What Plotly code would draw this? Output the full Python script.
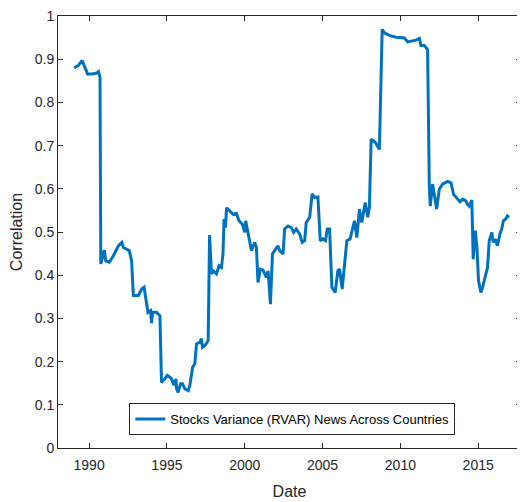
import plotly.graph_objects as go

# valores (ano decimal, correlacao)
anos = [
    1989.04, 1989.3, 1989.55, 1989.75, 1989.9, 1990.2, 1990.5, 1990.6, 1990.7, 1990.75,
    1990.98, 1991.07, 1991.3, 1991.56, 1991.88, 1992.1, 1992.2, 1992.42, 1992.58, 1992.73,
    1992.84, 1993.16, 1993.38, 1993.53, 1993.65, 1993.78, 1993.95, 1994.01, 1994.08, 1994.33,
    1994.55, 1994.65, 1994.87, 1995.02, 1995.19, 1995.3, 1995.45, 1995.58, 1995.62, 1995.72,
    1995.88, 1996.0, 1996.15, 1996.37, 1996.47, 1996.65, 1996.79, 1996.9, 1997.12, 1997.22,
    1997.28, 1997.44, 1997.65, 1997.74, 1997.86, 1997.97, 1998.18, 1998.35, 1998.5, 1998.6,
    1998.67, 1998.76, 1998.83, 1999.04, 1999.25, 1999.46, 1999.63, 1999.85, 2000.0, 2000.06,
    2000.21, 2000.43, 2000.64, 2000.75, 2000.85, 2001.0, 2001.17, 2001.39, 2001.5, 2001.65,
    2001.78, 2001.92, 2002.13, 2002.24, 2002.46, 2002.56, 2002.78, 2002.99, 2003.14, 2003.31,
    2003.53, 2003.69, 2003.85, 2003.95, 2004.17, 2004.33, 2004.49, 2004.7, 2004.85, 2005.02,
    2005.19, 2005.3, 2005.45, 2005.6, 2005.81, 2005.98, 2006.09, 2006.26, 2006.41, 2006.56,
    2006.77, 2007.05, 2007.2, 2007.37, 2007.52, 2007.74, 2007.9, 2008.01, 2008.12, 2008.4,
    2008.65, 2008.72, 2008.83, 2008.97, 2009.29, 2009.72, 2010.26, 2010.47, 2010.69, 2011.0,
    2011.22, 2011.32, 2011.54, 2011.75, 2011.86, 2011.92, 2012.07, 2012.18, 2012.33, 2012.5,
    2012.71, 2013.03, 2013.25, 2013.42, 2013.63, 2013.83, 2014.0, 2014.21, 2014.31, 2014.42,
    2014.59, 2014.68, 2014.81, 2014.92, 2015.02, 2015.17, 2015.28, 2015.38, 2015.49, 2015.6,
    2015.71, 2015.88, 2015.96, 2016.09, 2016.24, 2016.39, 2016.51, 2016.62, 2016.77, 2016.87,
    2016.99,
]
correlacao = [
    0.880, 0.885, 0.897, 0.880, 0.866, 0.866, 0.868, 0.871, 0.858, 0.426,
    0.458, 0.433, 0.430, 0.445, 0.468, 0.476, 0.464, 0.460, 0.457, 0.433,
    0.353, 0.353, 0.368, 0.372, 0.341, 0.314, 0.318, 0.289, 0.314, 0.314,
    0.306, 0.152, 0.160, 0.168, 0.164, 0.160, 0.145, 0.160, 0.137, 0.129,
    0.149, 0.149, 0.137, 0.133, 0.145, 0.187, 0.195, 0.241, 0.245, 0.253,
    0.233, 0.237, 0.249, 0.493, 0.403, 0.410, 0.403, 0.422, 0.418, 0.449,
    0.530, 0.510, 0.556, 0.549, 0.541, 0.543, 0.526, 0.518, 0.499, 0.526,
    0.495, 0.457, 0.476, 0.464, 0.383, 0.414, 0.412, 0.395, 0.410, 0.333,
    0.449, 0.457, 0.468, 0.457, 0.449, 0.507, 0.514, 0.510, 0.499, 0.507,
    0.495, 0.476, 0.480, 0.522, 0.534, 0.588, 0.580, 0.581, 0.480, 0.484,
    0.480, 0.507, 0.507, 0.372, 0.360, 0.410, 0.414, 0.368, 0.426, 0.480,
    0.484, 0.526, 0.487, 0.553, 0.522, 0.568, 0.534, 0.557, 0.715, 0.707,
    0.691, 0.800, 0.969, 0.961, 0.955, 0.951, 0.949, 0.940, 0.942, 0.944,
    0.948, 0.932, 0.932, 0.922, 0.603, 0.560, 0.611, 0.587, 0.553, 0.599,
    0.611, 0.617, 0.614, 0.587, 0.577, 0.570, 0.576, 0.572, 0.564, 0.560,
    0.574, 0.437, 0.503, 0.464, 0.387, 0.360, 0.372, 0.387, 0.399, 0.418,
    0.480, 0.499, 0.476, 0.484, 0.468, 0.495, 0.507, 0.526, 0.530, 0.537,
    0.534,
]
anos_ticks = [1990, 1995, 2000, 2005, 2010, 2015]
corr_ticks = [0, 0.1, 0.2, 0.3, 0.4, 0.5, 0.6, 0.7, 0.8, 0.9, 1]

AZUL = '#0072BD'
CINZA = '#262626'

fig = go.Figure()
fig.add_trace(go.Scatter(x=anos, y=correlacao, mode='lines',
                         name='Stocks Variance (RVAR) News Across Countries',
                         line=dict(color=AZUL, width=3)))

eixo = dict(showgrid=False, zeroline=False, showline=True, mirror='ticks',
            linecolor=CINZA, linewidth=1, ticks='inside', ticklen=5,
            tickcolor=CINZA, tickfont=dict(size=14, color=CINZA),
            automargin=False, ticklabeloverflow='allow')

# a pagina tem 8px de margem no body, por isso a figura fica 8px menor
fig.update_layout(
    width=517, height=494,
    margin=dict(l=50, r=4, t=8, b=54),
    paper_bgcolor='white', plot_bgcolor='white',
    font=dict(family='Liberation Sans, Arial, sans-serif', color=CINZA),
    xaxis=dict(eixo, range=[1988, 2017.75], tickvals=anos_ticks,
               ticktext=[str(a) for a in anos_ticks], ticklabelstandoff=4,
               title=dict(text='Date', font=dict(size=16, color=CINZA), standoff=14)),
    yaxis=dict(eixo, range=[0, 1], tickvals=corr_ticks,
               ticktext=['0', '0.1', '0.2', '0.3', '0.4', '0.5', '0.6', '0.7', '0.8', '0.9', '1'],
               title=dict(text='Correlation', font=dict(size=16, color=CINZA), standoff=10)),
    showlegend=True,
    legend=dict(x=0.506, y=0.03, xanchor='center', yanchor='bottom',
                bordercolor=CINZA, borderwidth=1, bgcolor='white',
                font=dict(size=13, color='black'), itemwidth=30),
)

fig.write_html("out.html")
